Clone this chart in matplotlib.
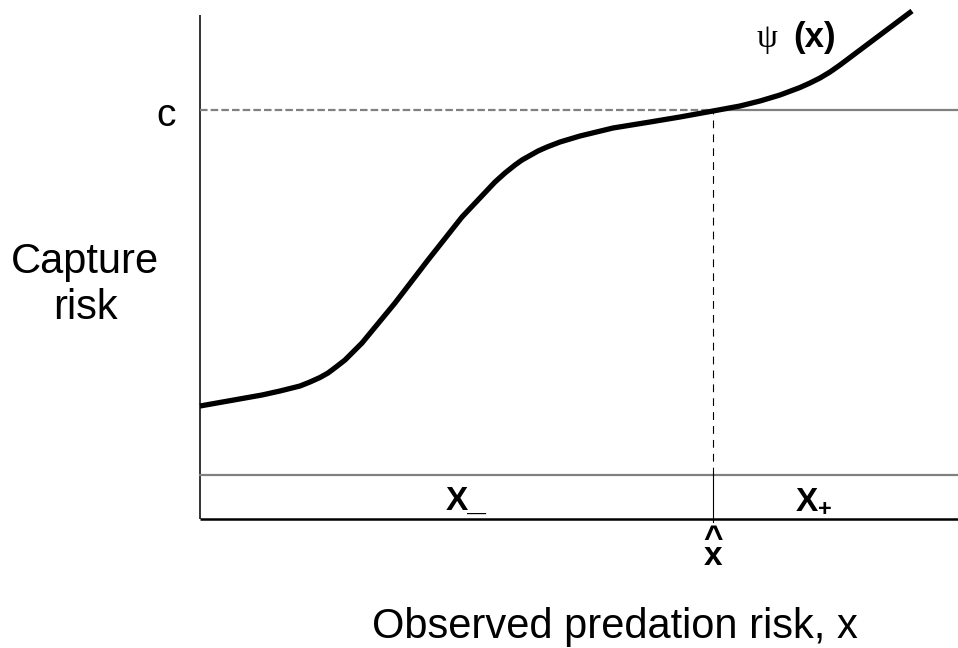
import matplotlib
matplotlib.use("Agg")
import matplotlib.pyplot as plt

plt.rcParams['font.family'] = ['Liberation Sans', 'DejaVu Sans']
plt.rcParams['mathtext.fontset'] = 'custom'
plt.rcParams['mathtext.rm'] = 'Liberation Sans'
plt.rcParams['mathtext.bf'] = 'Liberation Sans:bold'
plt.rcParams['mathtext.it'] = 'Liberation Sans:italic'

# Curve psi(x): observed predation risk vs capture risk (arbitrary units)
x_vals = [0, 62, 80, 90, 100, 110, 120, 128, 136, 145, 162, 195, 228, 262,
          295, 305, 315, 322, 330, 338, 347, 360, 380, 413, 450, 480, 513,
          540, 560, 580, 600, 610, 620, 630, 640, 660, 680, 696, 712]
psi_vals = [113, 124, 128, 130.5, 133, 137, 141.5, 146, 152, 159, 176, 216,
            259, 302, 337, 346, 354, 359, 363.5, 368, 372, 377, 383, 391, 397,
            402, 408, 413, 418, 424, 431.5, 436, 441, 447, 454, 469, 484, 496,
            508]
c_level = 409
x_hat = 513
band_level = 44
y_axis_top = 504
x_max = 758
y_max = 519

W, H = 958, 648
fig = plt.figure(figsize=(W / 100, H / 100), dpi=100)
ax = fig.add_axes([200 / W, (H - 519) / H, 758 / W, 519 / H])
ax.set_xlim(0, x_max)
ax.set_ylim(0, y_max)
ax.axis('off')

# axes lines
ax.plot([0, 0], [0, y_axis_top], color='#333333', lw=1.4, clip_on=False,
        solid_capstyle='butt')
ax.plot([0, x_max], [0, 0], color='black', lw=1.8, clip_on=False,
        solid_capstyle='butt')
# band line
ax.plot([0, x_max], [band_level, band_level], color='#808080', lw=1.6, clip_on=False)
# c line
ax.plot([0, x_hat], [c_level, c_level], color='#808080', lw=1.6,
        linestyle=(0, (3.4, 1.4)), clip_on=False)
ax.plot([x_hat, x_max], [c_level, c_level], color='#808080', lw=1.6, clip_on=False)
# x-hat vertical
ax.plot([x_hat, x_hat], [band_level, c_level], color='black', lw=0.8,
        linestyle=(0, (7, 5.5)), clip_on=False)
ax.plot([x_hat, x_hat], [-3, band_level], color='black', lw=0.8, clip_on=False)

# curve
ax.plot(x_vals, psi_vals, color='black', lw=3.8, solid_capstyle='butt',
        solid_joinstyle='round', clip_on=False)

# texts
ax.text(-34, 403, 'c', fontsize=28, ha='center', va='center')
ax.text(-115, 257, 'Capture', fontsize=30, ha='center', va='center')
ax.text(-115, 211, 'risk', fontsize=30, ha='center', va='center')
ax.text(415, -108, 'Observed predation risk, x', fontsize=30, ha='center', va='center')
ax.text(266, 9, 'X_', fontsize=24, fontweight='bold', ha='center', va='baseline')
ax.text(614, 9, r'$\mathbf{X_{+}}$', fontsize=24, ha='center', va='baseline')
ax.text(x_hat, -46, '^\nx', fontsize=24, fontweight='bold', ha='center',
        va='baseline', linespacing=0.42)
ax.text(567, 472, 'ψ', fontsize=24, ha='center', va='baseline',
        family=['Liberation Serif', 'DejaVu Serif'])
ax.text(593, 472, '(x)', fontsize=25, fontweight='bold', ha='left', va='baseline')

fig.savefig('out.png', dpi=100)
